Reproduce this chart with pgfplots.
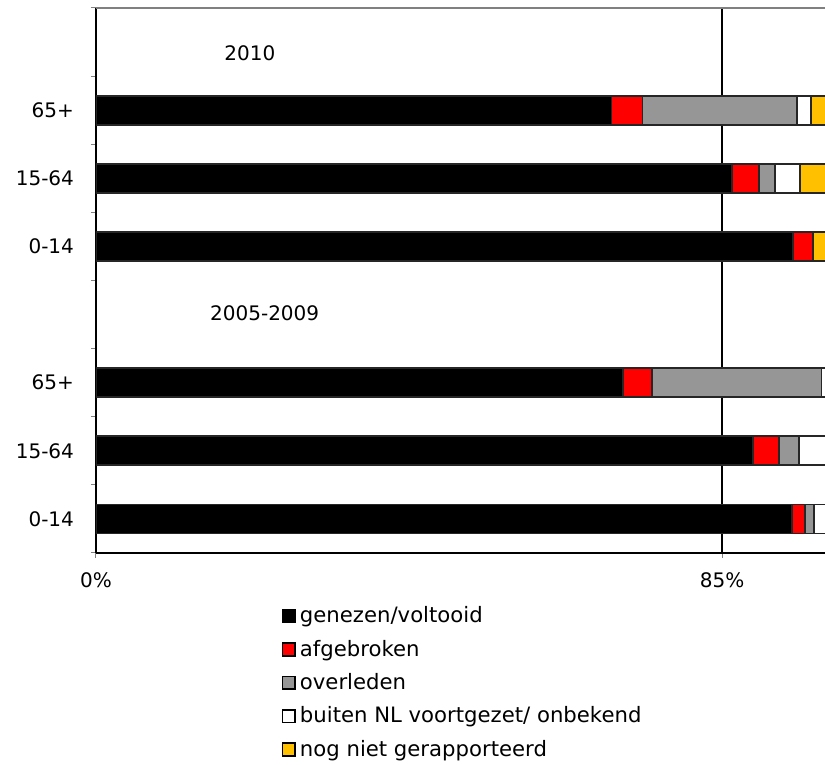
\documentclass[border=0pt]{standalone}
\usepackage{fontspec}
\setmainfont{DejaVu Sans}
\usepackage{pgfplots}
\usepackage{pgfplotstable}
\pgfplotsset{compat=1.18}
\definecolor{cred}{RGB}{255,0,0}
\definecolor{cgray}{RGB}{150,150,150}
\definecolor{cyellow}{RGB}{255,192,0}
\definecolor{cedge}{RGB}{38,38,38}
\pgfplotstableread{
y gen afg ovl bui nog
1 94.5 1.8 1.2 2.5 0
2 89.2 3.5 2.7 4.6 0
3 71.5 4.0 23.0 1.5 0
5 94.6 2.7 0 0 2.7
6 86.4 3.6 2.2 3.4 4.4
7 70.0 4.2 21.0 1.9 2.9
}\datatable
\begin{document}
\begin{tikzpicture}[font=\fontsize{10}{12}\selectfont]
\useasboundingbox (0,0) rectangle (412.5pt,382.5pt);
\begin{axis}[
  at={(48pt,106pt)}, anchor=south west,
  scale only axis, width=364.5pt, height=272.5pt,
  xbar stacked, bar width=14.5pt,
  xmin=0, xmax=98.98, ymin=0.5, ymax=8.5,
  axis x line*=bottom, axis y line*=left,
  axis line style={black, line width=0.6pt},
  xtick={0,85}, xticklabels={0\%,85\%},
  xmajorgrids, grid style={black, line width=0.6pt},
  ytick={1,2,3,5,6,7},
  yticklabels={0-14,15-64,65+,0-14,15-64,65+},
  minor ytick={0.5,1.5,...,8.5},
  tick align=outside,
  major tick length=2.5pt, minor tick length=2.5pt,
  major y tick style={draw=none},
  minor y tick style={draw=gray, line width=0.5pt},
  major x tick style={draw=gray, line width=0.5pt},
  yticklabel style={xshift=-5pt},
  xticklabel style={yshift=-4pt},
  /pgf/number format/assume math mode=true,
  every axis plot/.append style={draw=cedge, line width=0.9pt},
  sqleg/.style={legend image code/.code={\draw[##1,draw=black,line width=0.8pt] (0pt,-3.2pt) rectangle (6.4pt,3.2pt);}},
  legend style={at={(rel axis cs:0.254,-0.0905)}, anchor=north west, draw=none, fill=none,
    inner sep=0pt, row sep=3.1pt, cells={anchor=west}, nodes={inner sep=2pt},
    font=\fontsize{10.6}{12.7}\selectfont},
]
\addplot[fill=black, sqleg] table[x=gen, y=y] {\datatable};
\addplot[fill=cred, sqleg] table[x=afg, y=y] {\datatable};
\addplot[fill=cgray, sqleg] table[x=ovl, y=y] {\datatable};
\addplot[fill=white, sqleg] table[x=bui, y=y] {\datatable};
\addplot[fill=cyellow, sqleg] table[x=nog, y=y] {\datatable};
\legend{genezen/voltooid, afgebroken, overleden, buiten NL voortgezet/ onbekend, nog niet gerapporteerd}
\draw[gray, line width=1pt] (rel axis cs:0,1) -- (rel axis cs:1,1);
\node at (axis cs:20.9,7.84) {2010};
\node at (axis cs:22.9,4.02) {2005-2009};
\end{axis}
\end{tikzpicture}
\end{document}
